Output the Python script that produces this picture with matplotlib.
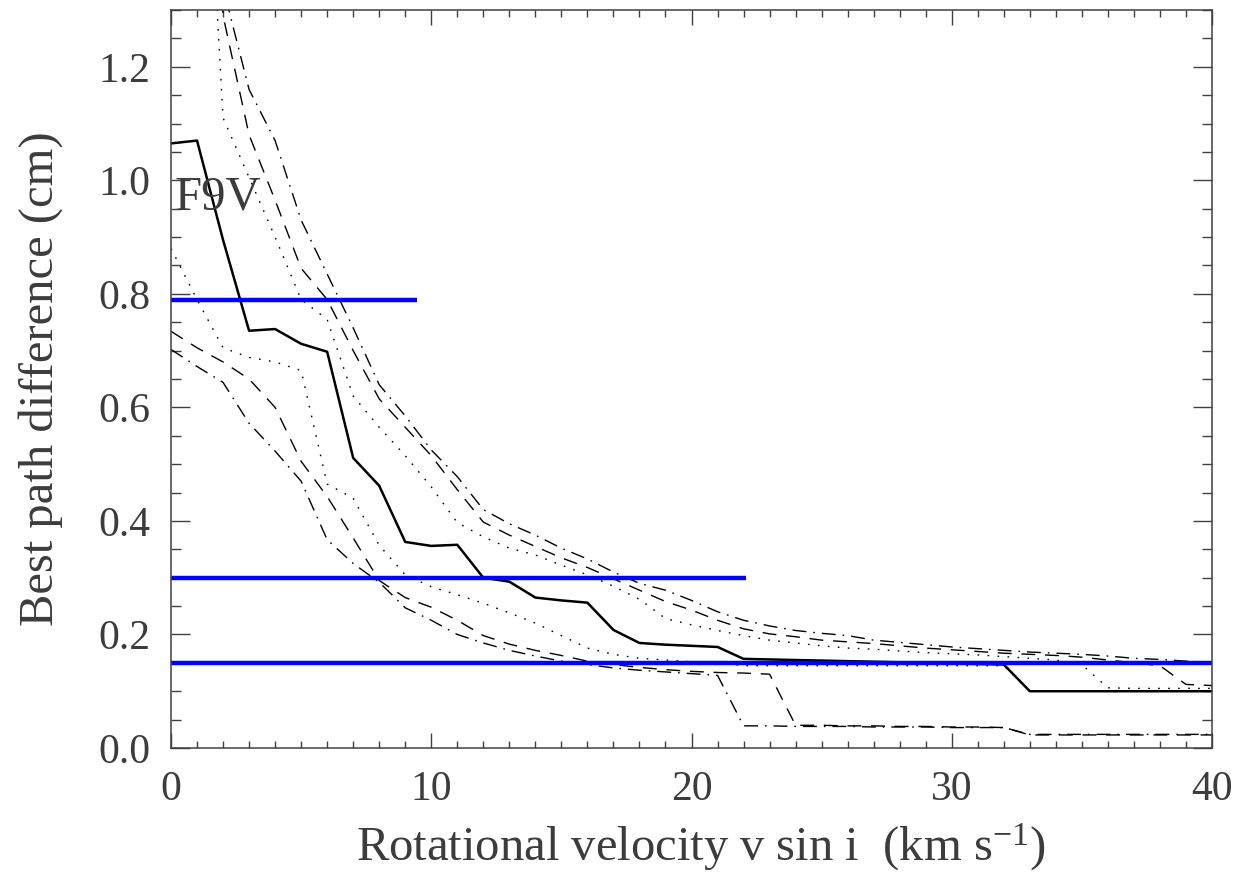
import matplotlib
matplotlib.use("Agg")
import matplotlib.pyplot as plt
from matplotlib.ticker import MultipleLocator

# === data ===
vsini = list(range(0, 41))

median = [1.065, 1.070, 0.895, 0.735, 0.738, 0.712, 0.698, 0.511, 0.462, 0.363,
          0.356, 0.358, 0.300, 0.293, 0.265, 0.260, 0.256, 0.208, 0.185, 0.182,
          0.180, 0.178, 0.157, 0.156, 0.155, 0.154, 0.153, 0.152, 0.151, 0.150,
          0.149, 0.148, 0.147, 0.100, 0.100, 0.100, 0.100, 0.100, 0.100, 0.100,
          0.100]

upper_dot = [2.50, 1.94, 1.110, 1.005, 0.900, 0.790, 0.755, 0.620, 0.565, 0.515,
             0.460, 0.397, 0.372, 0.352, 0.340, 0.322, 0.305, 0.285, 0.262, 0.228,
             0.217, 0.207, 0.198, 0.190, 0.185, 0.180, 0.176, 0.174, 0.171, 0.168,
             0.166, 0.164, 0.161, 0.158, 0.155, 0.147, 0.106, 0.105, 0.105, 0.105,
             0.105]

upper_dash = [2.80, 2.20, 1.290, 1.080, 0.965, 0.845, 0.790, 0.700, 0.615, 0.565,
              0.515, 0.455, 0.398, 0.375, 0.355, 0.335, 0.318, 0.298, 0.278, 0.258,
              0.243, 0.225, 0.210, 0.201, 0.196, 0.190, 0.187, 0.184, 0.180, 0.176,
              0.173, 0.170, 0.167, 0.165, 0.163, 0.160, 0.155, 0.150, 0.145, 0.112,
              0.110]

upper_dashdot = [3.00, 2.40, 1.340, 1.160, 1.070, 0.930, 0.835, 0.740, 0.640, 0.585,
                 0.525, 0.478, 0.420, 0.395, 0.375, 0.352, 0.333, 0.310, 0.290, 0.278,
                 0.260, 0.240, 0.225, 0.215, 0.207, 0.202, 0.198, 0.190, 0.186, 0.182,
                 0.178, 0.175, 0.172, 0.169, 0.167, 0.165, 0.162, 0.158, 0.156, 0.153,
                 0.151]

lower_dot = [0.880, 0.790, 0.705, 0.688, 0.680, 0.665, 0.465, 0.440, 0.357, 0.305,
             0.284, 0.270, 0.255, 0.238, 0.220, 0.198, 0.176, 0.165, 0.158, 0.155,
             0.152, 0.150, 0.145, 0.145, 0.145, 0.145, 0.145, 0.145, 0.145, 0.145,
             0.145, 0.145, 0.145, 0.100, 0.100, 0.100, 0.100, 0.100, 0.100, 0.100,
             0.100]

lower_dash = [0.734, 0.705, 0.680, 0.650, 0.600, 0.505, 0.443, 0.370, 0.295, 0.265,
              0.248, 0.225, 0.198, 0.183, 0.172, 0.163, 0.153, 0.147, 0.142, 0.138,
              0.135, 0.133, 0.132, 0.130, 0.040, 0.040, 0.039, 0.039, 0.038, 0.038,
              0.037, 0.037, 0.036, 0.023, 0.023, 0.023, 0.023, 0.023, 0.023, 0.023,
              0.023]

lower_dashdot = [0.702, 0.672, 0.644, 0.572, 0.523, 0.470, 0.367, 0.325, 0.292, 0.247,
                 0.225, 0.200, 0.185, 0.172, 0.162, 0.153, 0.147, 0.141, 0.137, 0.134,
                 0.131, 0.128, 0.039, 0.039, 0.038, 0.038, 0.038, 0.037, 0.037, 0.037,
                 0.036, 0.036, 0.036, 0.024, 0.024, 0.024, 0.024, 0.024, 0.024, 0.024,
                 0.024]

# blue threshold lines: level and right end (km/s)
blue_levels = [0.79, 0.30, 0.15]
blue_ends = [9.45, 22.1, 40.0]

# === style ===
plt.rcParams["font.family"] = ["Liberation Serif", "DejaVu Serif"]
plt.rcParams["mathtext.default"] = "regular"
plt.rcParams["lines.scale_dashes"] = False
txt_color = "#3c3c3c"

dotted = (0, (1.2, 6))
dashed = (0, (10, 7))
dashdot = (0, (10, 5, 1.2, 5))

fig = plt.figure(figsize=(12.38, 8.76), dpi=100)
ax = fig.add_axes([171 / 1238, 128 / 876, 1041 / 1238, 738 / 876])

thin = 1.0
ax.plot(vsini, upper_dashdot, color="black", lw=thin, ls=dashdot)
ax.plot(vsini, upper_dash, color="black", lw=thin, ls=dashed)
ax.plot(vsini, upper_dot, color="black", lw=thin, ls=dotted)
ax.plot(vsini, lower_dot, color="black", lw=thin, ls=dotted)
ax.plot(vsini, lower_dash, color="black", lw=thin, ls=dashed)
ax.plot(vsini, lower_dashdot, color="black", lw=thin, ls=dashdot)
ax.plot(vsini, median, color="black", lw=1.8, ls="-")

for lev, xend in zip(blue_levels, blue_ends):
    ax.plot([0, xend], [lev, lev], color="#0000ff", lw=3.2, solid_capstyle="butt")

ax.set_xlim(0, 40)
ax.set_ylim(0, 1.3)

ax.xaxis.set_major_locator(MultipleLocator(10))
ax.xaxis.set_minor_locator(MultipleLocator(1))
ax.yaxis.set_major_locator(MultipleLocator(0.2))
ax.yaxis.set_minor_locator(MultipleLocator(0.05))
ax.yaxis.set_major_formatter(plt.FuncFormatter(lambda v, p: f"{v:.1f}"))

ax.tick_params(axis="both", which="both", direction="in", top=True, right=True,
               color="#404040", width=1.0, labelcolor=txt_color, labelsize=30)
ax.tick_params(axis="x", which="major", length=11, pad=16)
ax.tick_params(axis="x", which="minor", length=5)
ax.tick_params(axis="y", which="major", length=14, pad=15)
ax.tick_params(axis="y", which="minor", length=7)

for sp in ax.spines.values():
    sp.set_color("#404040")
    sp.set_linewidth(1.1)

ax.set_xlabel("Rotational velocity v sin i  (km s$^{-1}$)", fontsize=35, color=txt_color)
ax.set_ylabel("Best path difference (cm)", fontsize=35, color=txt_color)
ax.xaxis.set_label_coords(0.509, -0.1)
ax.yaxis.set_label_coords(-0.104, 0.5)

ax.text(0.12, 0.97, "F9V", fontsize=35, color=txt_color, ha="left", va="center")

fig.savefig("out.png", dpi=100)
